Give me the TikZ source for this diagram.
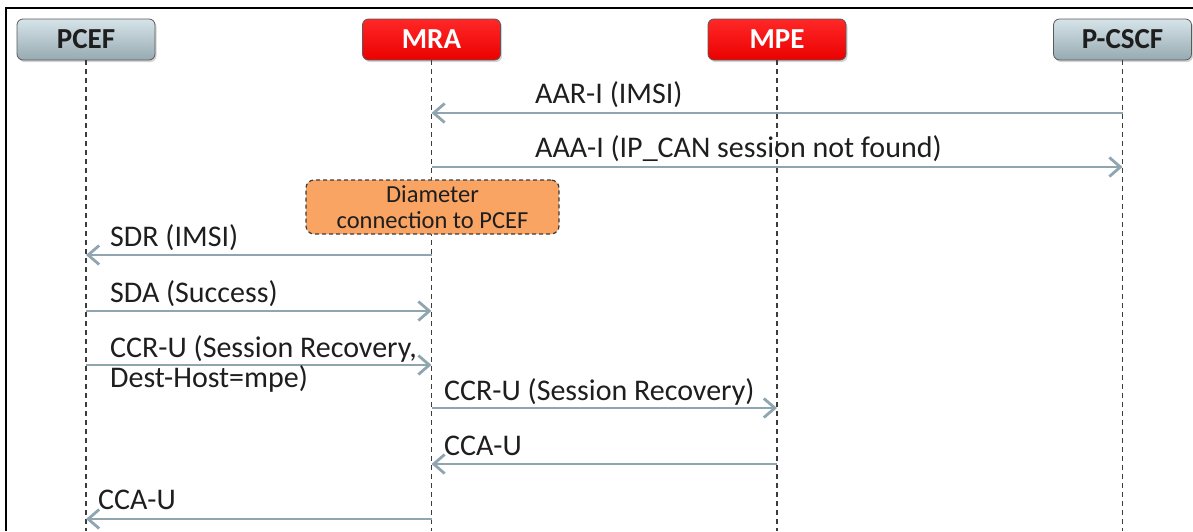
\documentclass[tikz,border=0pt]{standalone}
\usepackage{fontspec}
\setmainfont{Carlito}
\usetikzlibrary{arrows.meta,shadows}
\definecolor{msgcol}{RGB}{143,165,175}
\definecolor{txtcol}{RGB}{30,30,30}
\definecolor{lifecol}{RGB}{60,60,60}
\definecolor{grayTop}{RGB}{214,228,233}
\definecolor{grayBot}{RGB}{150,170,177}
\definecolor{redTop}{RGB}{255,40,40}
\definecolor{redBot}{RGB}{235,0,0}
\definecolor{noteFill}{RGB}{249,164,99}
\tikzset{
  actor/.style={rounded corners=6pt, minimum width=138pt, minimum height=41pt,
    inner sep=0pt, draw={rgb,255:red,90;green,90;blue,90}, line width=0.8pt,
    font=\fontsize{29}{34}\selectfont\bfseries,
    drop shadow={shadow xshift=1.5pt, shadow yshift=-2pt, opacity=0.35}},
  grayactor/.style={actor, top color=grayTop, bottom color=grayBot, text=txtcol},
  redactor/.style={actor, top color=redTop, bottom color=redBot, text=white},
  lifeline/.style={draw=lifecol, line width=1.4pt, dash pattern=on 5pt off 4pt},
  msg/.style={draw=msgcol, line width=2.6pt,
    -{Straight Barb[length=11pt,width=19pt,line width=2.8pt]}},
  lbl/.style={anchor=base west, inner sep=0pt, text=txtcol,
    font=\fontsize{30}{30}\selectfont},
  note/.style={rounded corners=8pt, fill=noteFill, draw=lifecol, line width=1.2pt,
    dash pattern=on 4pt off 3pt, minimum width=253pt, minimum height=54pt,
    align=center, inner sep=0pt, text=txtcol, font=\fontsize{24.5}{26}\selectfont}
}
\begin{document}
\begin{tikzpicture}[x=1pt,y=-1pt]
\useasboundingbox (0,0) rectangle (1193,531);
% outer frame (left and top edges)
\draw[line width=2pt, black] (6,531) -- (6,8) -- (1193,8);

% participants
\node[grayactor] (pcef)  at (86,39.5)    {PCEF};
\node[redactor]  (mra)   at (431.5,39.5) {MRA};
\node[redactor]  (mpe)   at (777,39.5)   {MPE};
\node[grayactor] (pcscf) at (1122.5,39.5){P-CSCF};

% lifelines
\coordinate (bottom) at (0,531);
\foreach \p in {pcef,mra,mpe,pcscf}
  \draw[lifeline] (\p.south) -- (\p.south |- bottom);

% message rows
\coordinate (r1) at (0,113);
\coordinate (r2) at (0,167);
\coordinate (r3) at (0,255);
\coordinate (r4) at (0,311);
\coordinate (r5) at (0,365);
\coordinate (r6) at (0,408);
\coordinate (r7) at (0,464);
\coordinate (r8) at (0,519);

\draw[msg] (pcscf |- r1) -- (mra |- r1);
\node[lbl] (l1) at (535,103) {AAR-I (IMSI)};

\draw[msg] (mra |- r2) -- (pcscf |- r2);
\node[lbl] (l2) at (535,157) {AAA-I (IP\_CAN session not found)};

\node[note] (diam) at (432.5,207) {Diameter\\connection to PCEF};

\draw[msg] (mra |- r3) -- (pcef |- r3);
\node[lbl] (l3) at (110,246) {SDR (IMSI)};

\draw[msg] (pcef |- r4) -- (mra |- r4);
\node[lbl] (l4) at (110,302) {SDA (Success)};

\draw[msg] (pcef |- r5) -- (mra |- r5);
% two-line label: the base anchor sits on the last line
\node[lbl, align=left] (l5) at (110,387) {CCR-U (Session Recovery,\\Dest-Host=mpe)};

\draw[msg] (mra |- r6) -- (mpe |- r6);
\node[lbl] (l6) at (444,400) {CCR-U (Session Recovery)};

\draw[msg] (mpe |- r7) -- (mra |- r7);
\node[lbl] (l7) at (444,455) {CCA-U};

\draw[msg] (mra |- r8) -- (pcef |- r8);
\node[lbl] (l8) at (98,509) {CCA-U};
\end{tikzpicture}
\end{document}
